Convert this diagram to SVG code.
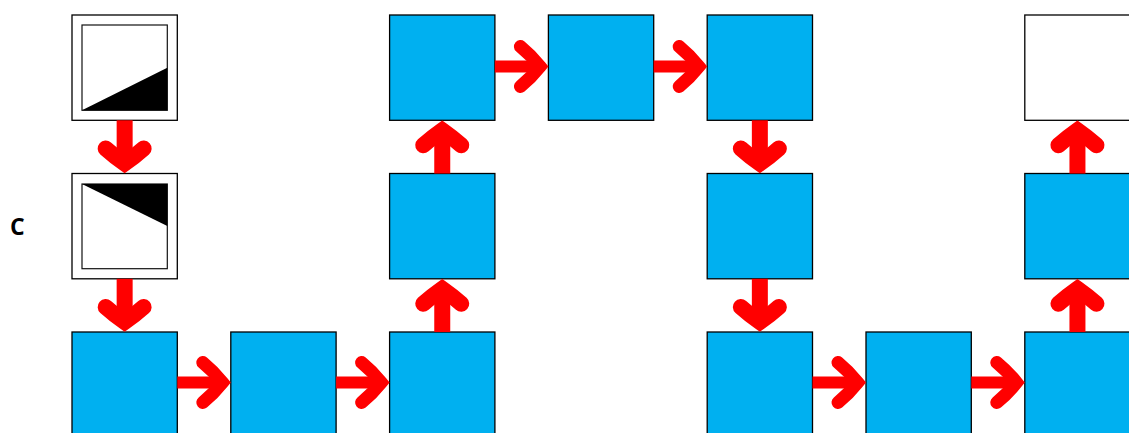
<svg xmlns="http://www.w3.org/2000/svg" width="1129" height="433" viewBox="0 0 1129 433">
<style>
.blue{fill:#00B0F0;stroke:#000;stroke-width:1.3}
.white{fill:#fff;stroke:#000;stroke-width:1.3}
.inner{fill:#fff;stroke:#111;stroke-width:1.2}
.tri{fill:#000}
.shv{stroke:#FF0000;stroke-width:16;fill:none}
.shh{stroke:#FF0000;stroke-width:12;fill:none}
.hv{stroke:#FF0000;stroke-width:16;fill:none;stroke-linecap:round;stroke-linejoin:miter;stroke-miterlimit:10}
.hh{stroke:#FF0000;stroke-width:13;fill:none;stroke-linecap:round;stroke-linejoin:miter;stroke-miterlimit:10}
.lbl{font-family:"Open Sans","Noto Sans","DejaVu Sans",sans-serif;font-weight:bold;font-size:23px;fill:#000}
</style>
<defs>
<path id="headD" class="hv" d="M-19,-25 Q-10,-17 0,-10 Q10,-17 19,-25"/>
<path id="headR" class="hh" d="M-28,-20 Q-17,-11 -8.3,0 Q-17,11 -28,20"/>
</defs>
<rect width="1129" height="433" fill="#fff"/>
<text class="lbl" x="10" y="235">C</text>
<g id="n0">
<rect class="white" x="72" y="15" width="105.3" height="105.3"/>
<rect class="inner" x="82" y="25" width="85.3" height="85.3"/>
<polygon class="tri" points="82,110.3 167.3,110.3 167.3,67.7"/>
</g>
<g id="n1">
<rect class="white" x="72" y="173.5" width="105.3" height="105.3"/>
<rect class="inner" x="82" y="184" width="85.3" height="84.7"/>
<polygon class="tri" points="82,184 167.3,184 167.3,226"/>
</g>
<g id="n2"><rect class="blue" x="72" y="332" width="105.3" height="105.3"/></g>
<g id="n3"><rect class="blue" x="230.8" y="332" width="105.3" height="105.3"/></g>
<g id="n4"><rect class="blue" x="389.6" y="332" width="105.3" height="105.3"/></g>
<g id="n5"><rect class="blue" x="389.6" y="173.5" width="105.3" height="105.3"/></g>
<g id="n6"><rect class="blue" x="389.6" y="15" width="105.3" height="105.3"/></g>
<g id="n7"><rect class="blue" x="548.4" y="15" width="105.3" height="105.3"/></g>
<g id="n8"><rect class="blue" x="707.2" y="15" width="105.3" height="105.3"/></g>
<g id="n9"><rect class="blue" x="707.2" y="173.5" width="105.3" height="105.3"/></g>
<g id="n10"><rect class="blue" x="707.2" y="332" width="105.3" height="105.3"/></g>
<g id="n11"><rect class="blue" x="866" y="332" width="105.3" height="105.3"/></g>
<g id="n12"><rect class="blue" x="1024.8" y="332" width="105.3" height="105.3"/></g>
<g id="n13"><rect class="blue" x="1024.8" y="173.5" width="105.3" height="105.3"/></g>
<g id="n14"><rect class="white" x="1024.8" y="15" width="105.3" height="105.3"/></g>
<g id="connectors">
<!-- down col0 -->
<line class="shv" x1="124.65" y1="120.3" x2="124.65" y2="161"/>
<use href="#headD" transform="translate(124.65,173.5)"/>
<line class="shv" x1="124.65" y1="278.8" x2="124.65" y2="320"/>
<use href="#headD" transform="translate(124.65,332)"/>
<!-- right bottom row -->
<line class="shh" x1="177.3" y1="382.5" x2="220" y2="382.5"/>
<use href="#headR" transform="translate(230.8,382.5)"/>
<line class="shh" x1="336.1" y1="382.5" x2="379" y2="382.5"/>
<use href="#headR" transform="translate(389.6,382.5)"/>
<!-- up col2 -->
<line class="shv" x1="442.25" y1="332" x2="442.25" y2="291"/>
<use href="#headD" transform="translate(442.25,278.8) rotate(180)"/>
<line class="shv" x1="442.25" y1="173.5" x2="442.25" y2="132"/>
<use href="#headD" transform="translate(442.25,120.3) rotate(180)"/>
<!-- right top row -->
<line class="shh" x1="494.9" y1="66.5" x2="538" y2="66.5"/>
<use href="#headR" transform="translate(548.4,66.5)"/>
<line class="shh" x1="653.7" y1="66.5" x2="696" y2="66.5"/>
<use href="#headR" transform="translate(707.2,66.5)"/>
<!-- down col4 -->
<line class="shv" x1="759.85" y1="120.3" x2="759.85" y2="161"/>
<use href="#headD" transform="translate(759.85,173.5)"/>
<line class="shv" x1="759.85" y1="278.8" x2="759.85" y2="320"/>
<use href="#headD" transform="translate(759.85,332)"/>
<!-- right bottom row, right side -->
<line class="shh" x1="812.5" y1="382.5" x2="855" y2="382.5"/>
<use href="#headR" transform="translate(866,382.5)"/>
<line class="shh" x1="971.3" y1="382.5" x2="1014" y2="382.5"/>
<use href="#headR" transform="translate(1024.8,382.5)"/>
<!-- up col6 -->
<line class="shv" x1="1077.45" y1="332" x2="1077.45" y2="291"/>
<use href="#headD" transform="translate(1077.45,278.8) rotate(180)"/>
<line class="shv" x1="1077.45" y1="173.5" x2="1077.45" y2="132"/>
<use href="#headD" transform="translate(1077.45,120.3) rotate(180)"/>
</g>
</svg>
